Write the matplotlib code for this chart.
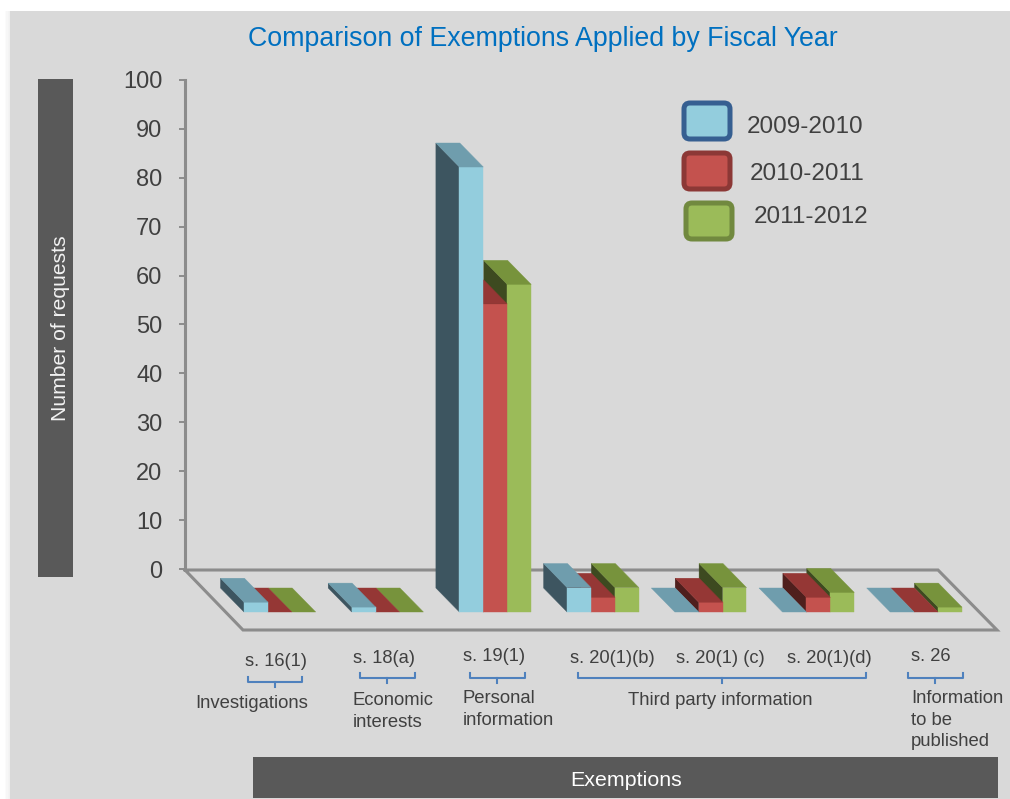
import matplotlib
matplotlib.use('Agg')
import matplotlib.pyplot as plt
from matplotlib.patches import Polygon, Rectangle, FancyBboxPatch

plt.rcParams['font.family'] = ['Liberation Sans', 'DejaVu Sans']

W, H = 1010, 799

years = ["2009-2010", "2010-2011", "2011-2012"]
sections = ["s. 16(1)", "s. 18(a)", "s. 19(1)", "s. 20(1)(b)", "s. 20(1) (c)", "s. 20(1)(d)", "s. 26"]
requests_0910 = [2, 1, 91, 5, 0, 0, 0]
requests_1011 = [0, 0, 63, 3, 2, 3, 0]
requests_1112 = [0, 0, 67, 5, 5, 4, 1]
yticks = [0, 10, 20, 30, 40, 50, 60, 70, 80, 90, 100]

TEXT = '#404040'
BAND = '#595959'
PANEL = '#d9d9d9'
LINE = '#8c8c8c'
BRACE = '#4f81bd'
# front, top, side
BLUE = ('#93cddd', '#6f9dad', '#3d5560')
RED = ('#c4524e', '#953735', '#4f1f1d')
GREEN = ('#9bbb59', '#77933c', '#3d4a20')

fig = plt.figure(figsize=(W / 100, H / 100), dpi=100, facecolor='white')

# background layer in pixel coordinates
bg = fig.add_axes([0, 0, 1, 1])
bg.set_xlim(0, W)
bg.set_ylim(H, 0)
bg.axis('off')

for i in range(4):
    bg.add_patch(Rectangle((10 - (i + 1) * 1.2, 11), (i + 1) * 1.2, H, color='#9a9a9a', alpha=0.03, lw=0))
bg.add_patch(Rectangle((10, 11), W - 10, H - 11, color=PANEL, lw=0))
bg.add_patch(Rectangle((38, 79), 35, 498, color=BAND, lw=0))
bg.add_patch(Rectangle((253, 757), 745, 41, color=BAND, lw=0))

# floor of the chart
bg.plot([185, 243, 997, 938, 185], [570, 630, 630, 570, 570], color=LINE, lw=2.2, solid_joinstyle='miter')

bg.text(542.5, 46, "Comparison of Exemptions Applied by Fiscal Year", color='#0070c0', fontsize=19.25, ha='center', va='baseline')
bg.text(61, 328, "Number of requests", color='#f2f2f2', fontsize=15.2, rotation=90, ha='center', va='center')
bg.text(626, 786.5, "Exemptions", color='white', fontsize=15.4, ha='center', va='baseline')

# y axis with a real scale
ax_y = fig.add_axes([185 / W, 1 - 569 / H, 0.0001, (569 - 80) / H])
ax_y.patch.set_alpha(0)
ax_y.set_ylim(0, 100)
ax_y.set_xticks([])
ax_y.set_yticks(yticks)
ax_y.tick_params(axis='y', length=4.3, width=1.4, color=LINE, labelcolor=TEXT, labelsize=17, pad=12)
for side in ['top', 'right', 'bottom']:
    ax_y.spines[side].set_visible(False)
ax_y.spines['left'].set_color(LINE)
ax_y.spines['left'].set_linewidth(2.2)

# bars: x in groups, y in requests, same vertical scale as the axis
UNIT_X = 107.7
UNIT_Y = (569 - 80) / 100
X0, Y0 = 244, 612
left, right, top, bottom = 150, W, 60, 650
ax = fig.add_axes([left / W, 1 - bottom / H, (right - left) / W, (bottom - top) / H])
ax.patch.set_alpha(0)
ax.axis('off')
ax.set_xlim((left - X0) / UNIT_X, (right - X0) / UNIT_X)
ax.set_ylim((Y0 - bottom) / UNIT_Y, (Y0 - top) / UNIT_Y)

bar_w = 23.9 / UNIT_X
dx = -23.5 / UNIT_X
dy = 24 / UNIT_Y


def bar3d(x, v, colors):
    front, lid, side = colors
    if v > 0:
        ax.add_patch(Polygon([(x, 0), (x, v), (x + dx, v + dy), (x + dx, dy)], fc=side, ec=side, lw=0.3))
        ax.add_patch(Rectangle((x, 0), bar_w, v, fc=front, ec=front, lw=0.3))
    ax.add_patch(Polygon([(x, v), (x + bar_w, v), (x + bar_w + dx, v + dy), (x + dx, v + dy)], fc=lid, ec=lid, lw=0.3))


# right to left so the nearer bar hides the side of the next one
series = [(requests_1112, GREEN, 2), (requests_1011, RED, 1), (requests_0910, BLUE, 0)]
for g in range(len(sections)):
    for values, colors, k in series:
        bar3d(g + k * bar_w, values[g], colors)

# legend
swatches = [(684, 103, BLUE[0], '#365f91'), (684, 153, RED[0], '#8c3836'), (686, 203, GREEN[0], '#71893f')]
labels_at = [(747, 132.7), (750, 180), (754, 222.7)]
for (sx, sy, fc, ec), name, (tx, ty) in zip(swatches, years, labels_at):
    bg.add_patch(FancyBboxPatch((sx, sy), 46, 36, boxstyle='round,pad=0,rounding_size=6', fc=fc, ec=ec, lw=3.6))
    bg.text(tx, ty, name, color=TEXT, fontsize=17.5, va='baseline')

# section labels under the floor
section_at = [(245, 666), (353, 662.7), (463, 660.7), (570, 662.7), (676, 662.7), (787, 662.7), (911, 660.7)]
for name, (tx, ty) in zip(sections, section_at):
    bg.text(tx, ty, name, color=TEXT, fontsize=13.2, va='baseline')

descriptions = [
    ("Investigations", 195.5, 708),
    ("Economic", 353, 705),
    ("interests", 353, 726.7),
    ("Personal", 463, 703),
    ("information", 463, 725),
    ("Third party information", 628, 705),
    ("Information", 911, 703),
    ("to be", 911, 725),
    ("published", 911, 745.7),
]
for name, tx, ty in descriptions:
    bg.text(tx, ty, name, color=TEXT, fontsize=13.3, va='baseline')

# braces joining sections to their descriptions
braces = [(247.5, 302, 677), (359.5, 414.5, 673), (469.5, 524.5, 673), (577.5, 866, 673), (907.5, 962.5, 673)]
for x1, x2, y in braces:
    mid = (x1 + x2) / 2
    bg.plot([x1, x1, x2, x2], [y, y + 5, y + 5, y], color=BRACE, lw=1.5)
    bg.plot([mid, mid], [y + 5, y + 10], color=BRACE, lw=1.5)

fig.savefig('out.png', dpi=100, facecolor='white')
